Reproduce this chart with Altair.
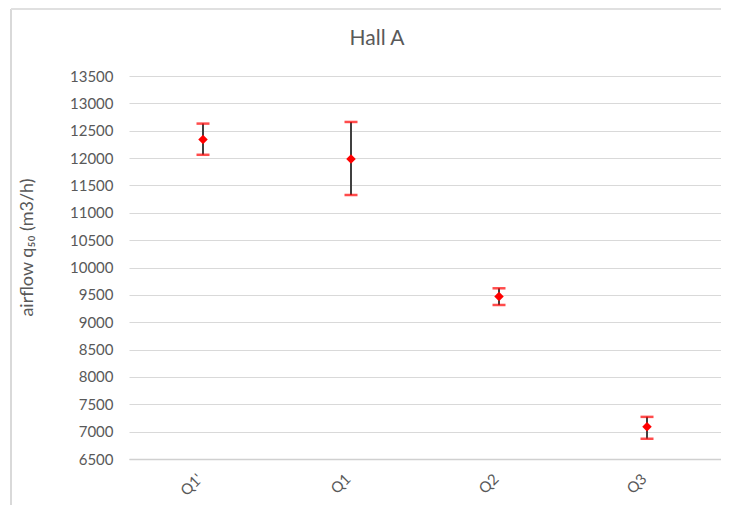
import altair as alt
import pandas as pd

categories = ["Q1'", "Q1", "Q2", "Q3"]
means = [12340, 11985, 9470, 7090]
upper = [12630, 12660, 9620, 7270]
lower = [12060, 11325, 9315, 6870]

df = pd.DataFrame({"cat": categories, "mean": means, "hi": upper, "lo": lower})

FONT = "Lato"
GRAY = "#595959"
RED = "#ff0000"

x = alt.X("cat:N", sort=categories,
          scale=alt.Scale(paddingInner=0, paddingOuter=0),
          axis=alt.Axis(title=None, labelAngle=-45, labelAlign="right", labelBaseline="middle",
                        labelPadding=17, labelOffset=-3, ticks=False, domainColor="#d0d0d0",
                        domainWidth=1.5, labelColor=GRAY, labelFontSize=15, labelFont=FONT,
                        grid=False))
yscale = alt.Scale(domain=[6500, 13500], nice=False, zero=False)
yaxis = alt.Axis(title="airflow q₅₀ (m3/h)", values=list(range(6500, 13501, 500)), format="d",
                 labelOverlap=False, grid=True, gridColor="#d9d9d9", ticks=False, domain=False,
                 tickSize=0, labelPadding=16, labelColor=GRAY, labelFontSize=15, labelFont=FONT,
                 titleFont=FONT, titleFontSize=18, titleColor=GRAY, titleFontWeight="normal",
                 titleAngle=270, titleX=-102, titleY=171, titleAlign="center", titleBaseline="middle")

base = alt.Chart(df)

rule = base.mark_rule(color="#404040", strokeWidth=2).encode(
    x=x, y=alt.Y("lo:Q", scale=yscale, axis=yaxis), y2="hi:Q")
cap_hi = base.mark_tick(color=RED, size=13, thickness=2.5).encode(
    x=x, y=alt.Y("hi:Q", scale=yscale, axis=yaxis))
cap_lo = base.mark_tick(color=RED, size=13, thickness=2.5).encode(
    x=x, y=alt.Y("lo:Q", scale=yscale, axis=yaxis))
pts = base.mark_point(shape="diamond", filled=True, color=RED, size=90, opacity=1).encode(
    x=x, y=alt.Y("mean:Q", scale=yscale, axis=yaxis))

frame_df = pd.DataFrame({"title": ["Hall A"]})
left_border = alt.Chart(frame_df).mark_rule(color="#d9d9d9", strokeWidth=2).encode(
    x=alt.value(-118), y=alt.value(-67), y2=alt.value(440))
top_border = alt.Chart(frame_df).mark_rule(color="#e0e0e0", strokeWidth=2).encode(
    x=alt.value(-118), x2=alt.value(592), y=alt.value(-67))
title = alt.Chart(frame_df).mark_text(font=FONT, fontSize=21, color=GRAY, align="center",
                                      baseline="alphabetic").encode(
    text="title:N", x=alt.value(248), y=alt.value(-31))

chart = alt.layer(left_border, top_border, title, rule, cap_hi, cap_lo, pts).properties(
    width=592, height=383,
    autosize=alt.AutoSizeParams(type="none"),
    padding={"left": 121, "top": 68, "right": 0, "bottom": 46},
).configure_view(stroke=None)

chart.save("out.html", embed_options={"renderer": "svg", "actions": False})
